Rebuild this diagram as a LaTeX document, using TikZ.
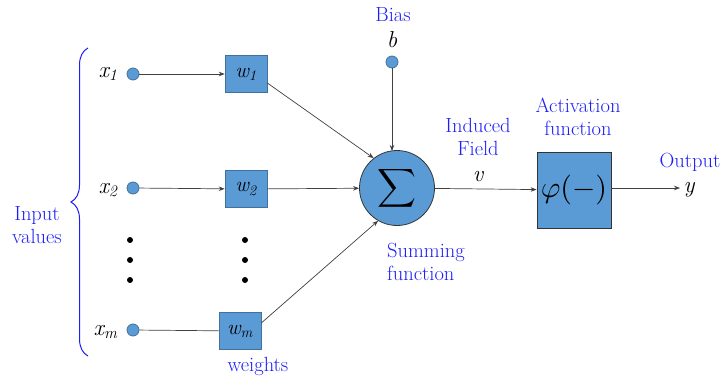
\documentclass[tikz,border=0pt]{standalone}
\usepackage{fontspec}
\usetikzlibrary{arrows.meta,decorations.pathreplacing}
\definecolor{boxfill}{RGB}{91,155,213}
\definecolor{boxline}{RGB}{65,113,156}
\definecolor{lbl}{RGB}{30,30,250}
\begin{document}
\begin{tikzpicture}[x=1pt,y=-1pt,
  wbox/.style={draw=boxline,fill=boxfill,line width=0.6pt,minimum width=42pt,minimum height=37pt,inner sep=0pt,font=\fontsize{21}{21}\selectfont\itshape},
  dotin/.style={circle,draw=boxline,fill=boxfill,line width=0.8pt,minimum size=12pt,inner sep=0pt},
  conn/.style={draw=black!75,line width=0.7pt},
  arr/.style={conn,-{Stealth[length=6pt,width=4.5pt]}},
  blab/.style={text=lbl,font=\fontsize{20.5}{23}\selectfont,align=center},
  vlab/.style={font=\fontsize{23}{23}\selectfont\itshape},
  bigdot/.style={circle,fill=black,minimum size=6pt,inner sep=0pt}]
\useasboundingbox (0,0) rectangle (721,380);
% inputs
\node[dotin] (c1) at (133,74) {};
\node[dotin] (c2) at (133,188) {};
\node[dotin] (cm) at (133,330) {};
\node[vlab,anchor=east] (x1) at (121,74) {x\textsubscript{1}};
\node[vlab,anchor=east] (x2) at (121,190) {x\textsubscript{2}};
\node[vlab,anchor=east] (xm) at (121,332) {x\textsubscript{m}};
% weights
\node[wbox] (w1) at (246,74) {w\textsubscript{1}};
\node[wbox] (w2) at (246,189) {w\textsubscript{2}};
\node[wbox] (wm) at (240,331) {w\textsubscript{m}};
\node[blab] (wl) at (258,366) {weights};
% dots
\foreach \y/\n in {240/a,260/b,280/c}{
  \node[bigdot] (dl\n) at (130,\y) {};
  \node[bigdot] (dr\n) at (245,\y) {};
}
% summing
\node[circle,draw=black!80,fill=boxfill,line width=0.8pt,minimum size=75pt,inner sep=0pt] (S) at (397,188) {};
\node (sig) at (S.center) {\scalebox{2.7}{$\displaystyle\sum$}};
\node[blab,align=left] (sl) at (426,262) {Summing\\function};
% bias
\node[dotin] (cb) at (392,62) {};
\node[vlab] (b) at (392,40) {b};
\node[blab] (bl) at (393,15) {Bias};
\coordinate (btip) at (392,151);
% activation
\node[draw=black!80,fill=boxfill,line width=0.8pt,minimum width=74pt,minimum height=76pt,inner sep=0pt] (A) at (574,190) {\scalebox{3}{$\varphi(-)$}};
\node[blab] (al) at (578,117) {Activation\\function};
\node[blab] (il) at (478,137) {Induced\\Field};
\node[vlab] (v) at (478,177) {v};
\node[blab] (ol) at (690,162) {Output};
\node[vlab,anchor=west] (y) at (680,190) {y};
\coordinate (yend) at (680,188);
% brace
\draw[lbl,line width=1pt,decorate,decoration={brace,amplitude=17pt,aspect=0.5}] (88,356) -- (88,48);
\node[blab] (inl) at (37,225) {Input\\values};
% connectors
\draw[arr] (c1) -- (w1);
\draw[arr] (c2) -- (w2);
\draw[conn] (cm) -- (wm);
\draw[arr] (w1.east |- 0,83) -- (S.128);
\draw[arr] (w2) -- (S);
\draw[arr] (wm.east |- 0,323) -- (S.-120);
\draw[arr] (cb) -- (btip);
\draw[arr] (S) -- (A);
\draw[arr] (A.east |- yend) -- (yend);
\end{tikzpicture}
\end{document}
